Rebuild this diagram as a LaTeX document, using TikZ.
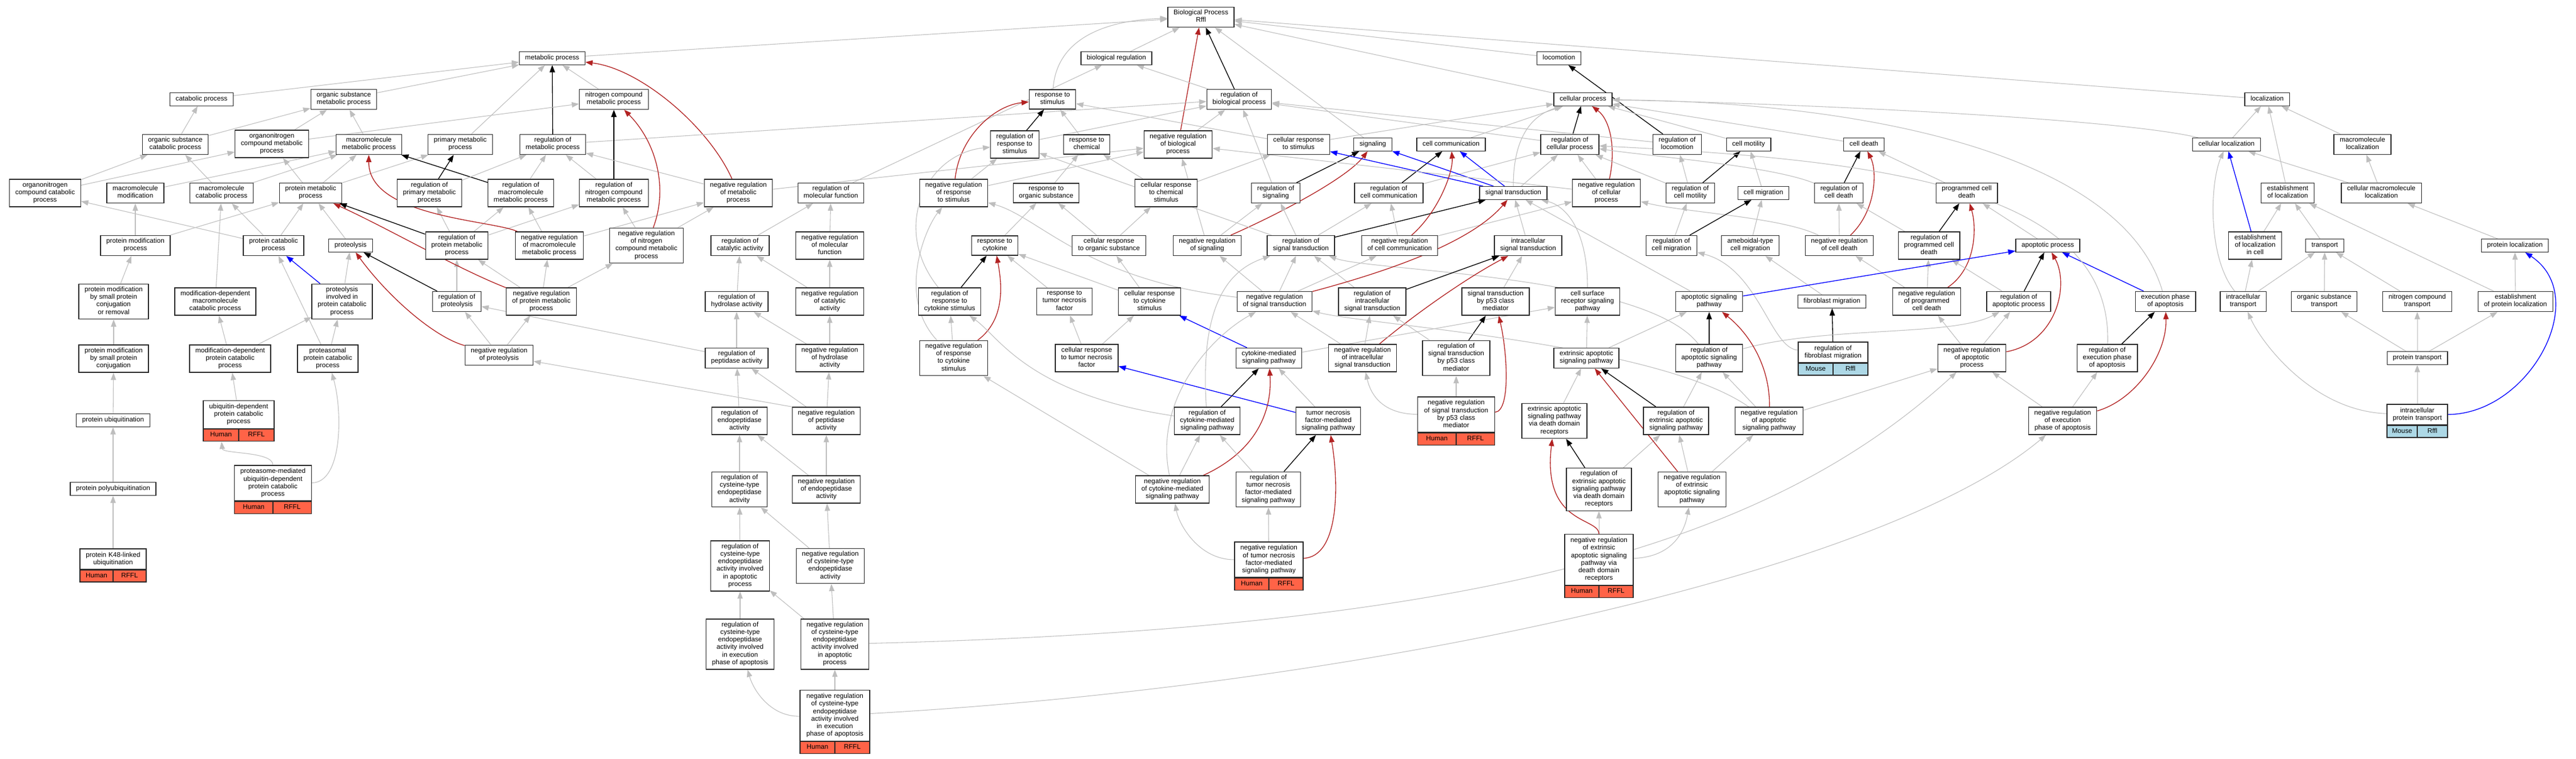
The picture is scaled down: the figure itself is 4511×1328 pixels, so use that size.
\documentclass[tikz,border=0pt]{standalone}
\usepackage{fontspec}
\setmainfont{Liberation Sans}
\usetikzlibrary{arrows.meta}

\definecolor{edgegrey}{RGB}{190,190,190}
\definecolor{negred}{RGB}{178,34,34}
\definecolor{partblue}{RGB}{0,0,255}
\definecolor{humanfill}{RGB}{255,99,71}
\definecolor{mousefill}{RGB}{173,216,230}
\definecolor{boxline}{RGB}{40,40,40}

\newcommand\termfont{\fontsize{8.8}{9.9}\selectfont}
\newcommand\genecells[5]{%
  \node [#2=#3, anchor=north west] (#1L) at (#1.south west) {#4};
  \node [#2=#3, anchor=north east] (#1R) at (#1.south east) {#5};}

\pgfdeclarelayer{edges}
\pgfsetlayers{edges,main}

\tikzset{every picture/.style={line width=0.75pt},
  term/.style={draw=boxline, line width=1pt, fill=white, align=center, font=\termfont,
    inner xsep=7.6pt, inner ysep=3.5pt,
    execute at begin node=\strut, execute at end node=\strut},
  gene/.style={term, inner xsep=5pt, text width=#1},
  hcell/.style={term, fill=humanfill, inner xsep=1pt, inner ysep=2.9pt, minimum width=#1},
  mcell/.style={hcell=#1, fill=mousefill},
  isa/.style={draw=edgegrey, line width=0.8pt, -{Triangle[length=9.5pt,width=7pt]}},
  reg/.style={isa, draw=black, line width=1pt},
  negreg/.style={isa, draw=negred, line width=1pt},
  partof/.style={isa, draw=partblue, line width=1pt}}

\begin{document}
\begin{tikzpicture}[x=0.75pt,y=0.75pt,yscale=-1,xscale=1]
%set diagram left start at 0, and has height of 1328
\useasboundingbox (0,0) rectangle (4511,1328);

% Text Node
\node [term] (bp) at (2103,30) {Biological Process\\Rffl};

% Text Node
\node [term] (met) at (967,102) {metabolic process};
\node [term] (bioreg) at (1955,102) {biological regulation};
\node [term] (loco) at (2730,102) {locomotion};

% Text Node
\node [term] (cat) at (353,174) {catabolic process};
\node [term] (osmet) at (602,174) {organic substance\\metabolic process};
\node [term] (ncmet) at (1075,174) {nitrogen compound\\metabolic process};
\node [term] (resp) at (1843,174) {response to\\stimulus};
\node [term] (regbio) at (2170,174) {regulation of\\biological process};
\node [term] (cell) at (2772,174) {cellular process};
\node [term] (loc) at (3970,174) {localization};

% Text Node
\node [term] (oscat) at (307,253) {organic substance\\catabolic process};
\node [term] (oncmet) at (476,252) {organonitrogen\\compound metabolic\\process};
\node [term] (mmet) at (646,253) {macromolecule\\metabolic process};
\node [term] (pmet) at (806,253) {primary metabolic\\process};
\node [term] (regmet) at (968,253) {regulation of\\metabolic process};
\node [term] (regresp) at (1777,253) {regulation of\\response to\\stimulus};
\node [term] (respchem) at (1903,253) {response to\\chemical};
\node [term] (negbio) at (2063,253) {negative regulation\\of biological\\process};
\node [term] (cresp) at (2274,253) {cellular response\\to stimulus};
\node [term] (sig) at (2404,253) {signaling};
\node [term] (ccom) at (2541,253) {cell communication};
\node [term] (regcell) at (2749,253) {regulation of\\cellular process};
\node [term] (regloco) at (2937,253) {regulation of\\locomotion};
\node [term] (motil) at (3062,253) {cell motility};
\node [term] (death) at (3264,253) {cell death};
\node [term] (cloc) at (3899,253) {cellular localization};
\node [term] (mloc) at (4137,253) {macromolecule\\localization};

% Text Node
\node [term] (onccat) at (79,338) {organonitrogen\\compound catabolic\\process};
\node [term] (mmod) at (237,338) {macromolecule\\modification};
\node [term] (mcat) at (388,338) {macromolecule\\catabolic process};
\node [term] (pmetp) at (544,338) {protein metabolic\\process};
\node [term] (regpmet) at (752,338) {regulation of\\primary metabolic\\process};
\node [term] (regmmet) at (912,338) {regulation of\\macromolecule\\metabolic process};
\node [term] (regncmet) at (1075,338) {regulation of\\nitrogen compound\\metabolic process};
\node [term] (negmet) at (1293,338) {negative regulation\\of metabolic\\process};
\node [term] (regmf) at (1455,338) {regulation of\\molecular function};
\node [term] (negresp) at (1670,338) {negative regulation\\of response\\to stimulus};
\node [term] (resporg) at (1832,338) {response to\\organic substance};
\node [term] (crespchem) at (2042,338) {cellular response\\to chemical\\stimulus};
\node [term] (regsig) at (2234,338) {regulation of\\signaling};
\node [term] (regccom) at (2432,338) {regulation of\\cell communication};
\node [term] (st) at (2650,338) {signal transduction};
\node [term] (negcell) at (2813,338) {negative regulation\\of cellular\\process};
\node [term] (regmotil) at (2960,338) {regulation of\\cell motility};
\node [term] (migr) at (3088,338) {cell migration};
\node [term] (regdeath) at (3220,338) {regulation of\\cell death};
\node [term] (pcd) at (3444,338) {programmed cell\\death};
\node [term] (estloc) at (4006,338) {establishment\\of localization};
\node [term] (cmloc) at (4170,338) {cellular macromolecule\\localization};

% Text Node
\node [term] (pmod) at (237,430) {protein modification\\process};
\node [term] (pcat) at (479,430) {protein catabolic\\process};
\node [term] (prot) at (614,430) {proteolysis};
\node [term] (regpm) at (800,430) {regulation of\\protein metabolic\\process};
\node [term] (negmm) at (962,430) {negative regulation\\of macromolecule\\metabolic process};
\node [term] (negnc) at (1132,430) {negative regulation\\of nitrogen\\compound metabolic\\process};
\node [term] (regcat) at (1296,430) {regulation of\\catalytic activity};
\node [term] (negmf) at (1453,430) {negative regulation\\of molecular\\function};
\node [term] (respcyt) at (1742,430) {response to\\cytokine};
\node [term] (cresporg) at (1942,430) {cellular response\\to organic substance};
\node [term] (negsig) at (2114,430) {negative regulation\\of signaling};
\node [term] (regst) at (2278,430) {regulation of\\signal transduction};
\node [term] (negccom) at (2451,430) {negative regulation\\of cell communication};
\node [term] (ist) at (2676,430) {intracellular\\signal transduction};
\node [term] (regmigr) at (2927,430) {regulation of\\cell migration};
\node [term] (amig) at (3065,430) {ameboidal-type\\cell migration};
\node [term] (negdeath) at (3221,430) {negative regulation\\of cell death};
\node [term] (regpcd) at (3378,430) {regulation of\\programmed cell\\death};
\node [term] (apo) at (3586,430) {apoptotic process};
\node [term] (estcell) at (3949,430) {establishment\\of localization\\in cell};
\node [term] (transp) at (4071,430) {transport};
\node [term] (ploc) at (4404,430) {protein localization};

% Text Node
\node [term] (pmodsm) at (199,528) {protein modification\\by small protein\\conjugation\\or removal};
\node [term] (mdmcat) at (377,528) {modification-dependent\\macromolecule\\catabolic process};
\node [term] (protcat) at (599,528) {proteolysis\\involved in\\protein catabolic\\process};
\node [term] (regprot) at (800,528) {regulation of\\proteolysis};
\node [term] (negpm) at (948,528) {negative regulation\\of protein metabolic\\process};
\node [term] (reghyd) at (1290,528) {regulation of\\hydrolase activity};
\node [term] (negcat) at (1453,528) {negative regulation\\of catalytic\\activity};
\node [term] (regrcyt) at (1663,528) {regulation of\\response to\\cytokine stimulus};
\node [term] (resptnf) at (1864,528) {response to\\tumor necrosis\\factor};
\node [term] (crespcyt) at (2013,528) {cellular response\\to cytokine\\stimulus};
\node [term] (negst) at (2232,528) {negative regulation\\of signal transduction};
\node [term] (regist) at (2403,528) {regulation of\\intracellular\\signal transduction};
\node [term] (p53) at (2619,528) {signal transduction\\by p53 class\\mediator};
\node [term] (csr) at (2780,528) {cell surface\\receptor signaling\\pathway};
\node [term] (apsig) at (2993,528) {apoptotic signaling\\pathway};
\node [term] (fibmig) at (3208,528) {fibroblast migration};
\node [term] (negpcd) at (3374,528) {negative regulation\\of programmed\\cell death};
\node [term] (regapo) at (3535,528) {regulation of\\apoptotic process};
\node [term] (exec) at (3792,528) {execution phase\\of apoptosis};
\node [term] (itr) at (3928,528) {intracellular\\transport};
\node [term] (ostr) at (4070,528) {organic substance\\transport};
\node [term] (nctr) at (4233,528) {nitrogen compound\\transport};
\node [term] (estploc) at (4405,528) {establishment\\of protein localization};

% Text Node
\node [term] (pmodsc) at (199,628) {protein modification\\by small protein\\conjugation};
\node [term] (mdpcat) at (403,628) {modification-dependent\\protein catabolic\\process};
\node [term] (pscat) at (574,628) {proteasomal\\protein catabolic\\process};
\node [term] (negprot) at (874,622) {negative regulation\\of proteolysis};
\node [term] (regpep) at (1290,627) {regulation of\\peptidase activity};
\node [term] (neghyd) at (1453,627) {negative regulation\\of hydrolase\\activity};
\node [term] (negrcyt) at (1670,627) {negative regulation\\of response\\to cytokine\\stimulus};
\node [term] (cresptnf) at (1903,627) {cellular response\\to tumor necrosis\\factor};
\node [term] (cms) at (2222,627) {cytokine-mediated\\signaling pathway};
\node [term] (negist) at (2386,627) {negative regulation\\of intracellular\\signal transduction};
\node [term] (regp53) at (2550,627) {regulation of\\signal transduction\\by p53 class\\mediator};
\node [term] (ext) at (2778,627) {extrinsic apoptotic\\signaling pathway};
\node [term] (regapsig) at (2993,627) {regulation of\\apoptotic signaling\\pathway};
\node [gene=81.5pt] (regfib) at (3210,617) {regulation of\\fibroblast migration};
\genecells{regfib}{mcell}{45.75pt}{Mouse}{Rffl}
\node [term] (negapo) at (3453,627) {negative regulation\\of apoptotic\\process};
\node [term] (regexec) at (3690,627) {regulation of\\execution phase\\of apoptosis};
\node [term] (ptr) at (4233,627) {protein transport};

% Text Node
\node [gene=83pt] (ubq) at (418,726) {ubiquitin-dependent\\protein catabolic\\process};
\genecells{ubq}{hcell}{46.5pt}{Human}{RFFL}
\node [term] (pubq) at (198,736) {protein ubiquitination};
\node [term] (regendo) at (1295,737) {regulation of\\endopeptidase\\activity};
\node [term] (negpep) at (1447,737) {negative regulation\\of peptidase\\activity};
\node [term] (regcms) at (2114,737) {regulation of\\cytokine-mediated\\signaling pathway};
\node [term] (tnf) at (2326,737) {tumor necrosis\\factor-mediated\\signaling pathway};
\node [gene=91.25pt] (negp53) at (2550,726) {negative regulation\\of signal transduction\\by p53 class\\mediator};
\genecells{negp53}{hcell}{50.625pt}{Human}{RFFL}
\node [term] (extdd) at (2722,737) {extrinsic apoptotic\\signaling pathway\\via death domain\\receptors};
\node [term] (regext) at (2935,737) {regulation of\\extrinsic apoptotic\\signaling pathway};
\node [term] (negapsig) at (3098,737) {negative regulation\\of apoptotic\\signaling pathway};
\node [term] (negexec) at (3612,737) {negative regulation\\of execution\\phase of apoptosis};
\node [gene=69.5pt] (iptr) at (4233,726) {intracellular\\protein transport};
\genecells{iptr}{mcell}{39.75pt}{Mouse}{Rffl}

% Text Node
\node [gene=91.25pt] (pasm) at (478,846) {proteasome-mediated\\ubiquitin-dependent\\protein catabolic\\process};
\genecells{pasm}{hcell}{50.625pt}{Human}{RFFL}
\node [term] (ppubq) at (198,856) {protein polyubiquitination};
\node [term] (regcys) at (1295,857) {regulation of\\cysteine-type\\endopeptidase\\activity};
\node [term] (negendo) at (1447,857) {negative regulation\\of endopeptidase\\activity};
\node [term] (negcms) at (2053,857) {negative regulation\\of cytokine-mediated\\signaling pathway};
\node [term] (regtnf) at (2221,857) {regulation of\\tumor necrosis\\factor-mediated\\signaling pathway};
\node [term] (regextdd) at (2800,857) {regulation of\\extrinsic apoptotic\\signaling pathway\\via death domain\\receptors};
\node [term] (negext) at (2963,857) {negative regulation\\of extrinsic\\apoptotic signaling\\pathway};

% Text Node
\node [gene=77pt] (k48) at (198,979) {protein K48-linked\\ubiquitination};
\genecells{k48}{hcell}{43.5pt}{Human}{RFFL}
\node [term] (regcysap) at (1296,991) {regulation of\\cysteine-type\\endopeptidase\\activity involved\\in apoptotic\\process};
\node [term] (negcys) at (1454,991) {negative regulation\\of cysteine-type\\endopeptidase\\activity};
\node [gene=80pt] (negtnf) at (2222,980) {negative regulation\\of tumor necrosis\\factor-mediated\\signaling pathway};
\genecells{negtnf}{hcell}{45pt}{Human}{RFFL}
\node [gene=80pt] (negextdd) at (2800,980) {negative regulation\\of extrinsic\\apoptotic signaling\\pathway via\\death domain\\receptors};
\genecells{negextdd}{hcell}{45pt}{Human}{RFFL}

% Text Node
\node [term] (regcysex) at (1296,1128) {regulation of\\cysteine-type\\endopeptidase\\activity involved\\in execution\\phase of apoptosis};
\node [term] (negcysap) at (1462,1128) {negative regulation\\of cysteine-type\\endopeptidase\\activity involved\\in apoptotic\\process};
\node [gene=81.5pt] (negcysex) at (1462,1253) {negative regulation\\of cysteine-type\\endopeptidase\\activity involved\\in execution\\phase of apoptosis};
\genecells{negcysex}{hcell}{45.75pt}{Human}{RFFL}

\begin{pgfonlayer}{edges}
\fill [white] (0,0) rectangle (4511,1328);
%Straight Lines: top
\draw [isa] (met) -- (bp);
\draw [isa] (bioreg) -- (bp);
\draw [isa] (resp) .. controls (1850,60) and (1950,35) .. (bp);
\draw [reg] (regbio) -- (bp);
\draw [negreg] (negbio) -- (bp);
\draw [isa] (cell) -- (bp);
\draw [isa] (loco) -- (bp);
\draw [isa] (loc) -- (bp);
\draw [isa] (sig) -- (bp);
%Straight Lines: metabolism
\draw [isa] (cat) -- (met);
\draw [isa] (osmet) -- (met);
\draw [isa] (ncmet) -- (met);
\draw [isa] (pmet) -- (met);
\draw [reg] (regmet) -- (met);
\draw [negreg] (negmet) .. controls (1240,220) and (1120,120) .. (met);
\draw [isa] (oscat) -- (cat);
\draw [isa] (oscat) -- (osmet);
\draw [isa] (oncmet) -- (osmet);
\draw [isa] (oncmet) -- (ncmet);
\draw [isa] (mmet) -- (osmet);
\draw [isa] (pmetp) -- (pmet);
\draw [isa] (regmet) -- (regbio);
\draw [isa] (regmmet) -- (regmet);
\draw [reg] (regmmet) -- (mmet);
\draw [reg] (regpmet) -- (pmet);
\draw [isa] (regpmet) -- (regmet);
\draw [reg] (regncmet) -- (ncmet);
\draw [isa] (regncmet) -- (regmet);
\draw [isa] (negmet) -- (regmet);
\draw [isa] (negmet) -- (negbio);
\draw [isa] (onccat) -- (oscat);
\draw [isa] (onccat) -- (oncmet);
\draw [isa] (mmod) -- (mmet);
\draw [isa] (mcat) -- (oscat);
\draw [isa] (mcat) -- (mmet);
\draw [isa] (pmetp) -- (oncmet);
\draw [isa] (pmetp) -- (mmet);
\draw [reg] (regpm) -- (pmetp);
\draw [isa] (regpm) -- (regmmet);
\draw [isa] (regpm) -- (regpmet);
\draw [isa] (regpm) -- (regncmet);
\draw [isa] (negmm) -- (regmmet);
\draw [negreg] (negmm) .. controls (860,385) and (645,380) .. (mmet);
\draw [isa] (negmm) -- (negmet);
\draw [isa] (negnc) -- (regncmet);
\draw [negreg] (negnc) .. controls (1170,330) and (1150,250) .. (ncmet);
\draw [isa] (negnc) -- (negmet);
\draw [isa] (regcat) -- (regmf);
\draw [isa] (negmf) -- (regmf);
\draw [isa] (regmf) -- (bioreg);
\draw [isa] (pmod) -- (mmod);
\draw [isa] (pmod) -- (pmetp);
\draw [isa] (pcat) -- (onccat);
\draw [isa] (pcat) -- (mcat);
\draw [isa] (pcat) -- (pmetp);
\draw [isa] (prot) -- (pmetp);
\draw [reg] (regprot) -- (prot);
\draw [isa] (regprot) -- (regpm);
\draw [isa] (negpm) -- (regpm);
\draw [isa] (negpm) -- (negmm);
\draw [negreg] (negpm) .. controls (800,470) and (680,400) .. (pmetp);
\draw [isa] (negpm) -- (negnc);
\draw [isa] (reghyd) -- (regcat);
\draw [isa] (negcat) -- (regcat);
\draw [isa] (negcat) -- (negmf);
\draw [isa] (pmodsm) -- (pmod);
\draw [isa] (mdmcat) -- (mcat);
\draw [partof] (protcat) -- (pcat);
\draw [isa] (protcat) -- (prot);
\draw [isa] (negprot) -- (regprot);
\draw [negreg] (negprot) .. controls (760,590) and (680,520) .. (prot);
\draw [isa] (negprot) -- (negpm);
\draw [isa] (regpep) -- (reghyd);
\draw [isa] (regpep) -- (regprot);
\draw [isa] (neghyd) -- (reghyd);
\draw [isa] (neghyd) -- (negcat);
\draw [isa] (regendo) -- (regpep);
\draw [isa] (negpep) -- (regpep);
\draw [isa] (negpep) -- (neghyd);
\draw [isa] (negpep.north west) -- (negprot);
\draw [isa] (regcys) -- (regendo);
\draw [isa] (negendo) -- (regendo);
\draw [isa] (negendo) -- (negpep);
\draw [isa] (regcysap) -- (regcys);
\draw [isa] (negcys) -- (regcys);
\draw [isa] (negcys) -- (negendo);
\draw [isa] (regcysex) -- (regcysap);
\draw [isa] (negcysap) -- (regcysap);
\draw [isa] (negcysap) -- (negcys);
\draw [isa] (negcysap) .. controls (2600,1100) and (3100,950) .. (negapo);
\draw [isa] (negcysex) .. controls (1350,1255) and (1320,1210) .. (regcysex);
\draw [isa] (negcysex) -- (negcysap);
\draw [isa] (negcysex) .. controls (2400,1200) and (3300,1000) .. (negexec);
\draw [isa] (pmodsc) -- (pmodsm);
\draw [isa] (mdpcat) -- (mdmcat);
\draw [isa] (mdpcat) -- (protcat);
\draw [isa] (pscat) -- (protcat);
\draw [isa] (pscat) -- (pcat);
\draw [isa] (ubq) -- (mdpcat);
\draw [isa] (pubq) -- (pmodsc);
\draw [isa] (pasm) .. controls (478,790) and (390,795) .. (ubqL);
\draw [isa] (pasm) .. controls (600,845) and (600,720) .. (pscat);
\draw [isa] (ppubq) -- (pubq);
\draw [isa] (k48) -- (ppubq);
%Straight Lines: response and signaling
\draw [isa] (regbio) -- (bioreg);
\draw [reg] (regresp) -- (resp);
\draw [isa] (regresp) -- (regbio);
\draw [isa] (respchem) -- (resp);
\draw [isa] (negbio) -- (regbio);
\draw [isa] (cresp) -- (resp);
\draw [isa] (cresp) -- (cell);
\draw [negreg] (negresp) .. controls (1680,240) and (1740,185) .. (resp);
\draw [isa] (negresp) -- (regresp);
\draw [isa] (negresp) -- (negbio);
\draw [isa] (resporg) -- (respchem);
\draw [isa] (crespchem) -- (respchem);
\draw [isa] (crespchem) -- (cresp);
\draw [isa] (regsig) -- (regbio);
\draw [reg] (regsig) -- (sig);
\draw [isa] (respcyt) -- (resporg);
\draw [isa] (cresporg) -- (resporg);
\draw [isa] (cresporg) -- (crespchem);
\draw [isa] (negsig) -- (regsig);
\draw [negreg] (negsig) .. controls (2250,370) and (2360,310) .. (sig);
\draw [isa] (negsig) -- (negbio);
\draw [isa] (regst) -- (regsig);
\draw [reg] (regst) -- (st);
\draw [isa] (regst) -- (regresp);
\draw [isa] (regst) -- (regccom);
\draw [reg] (regccom) -- (ccom);
\draw [isa] (regccom) -- (regcell);
\draw [reg] (regcell) -- (cell);
\draw [isa] (regcell) -- (regbio);
\draw [isa] (ccom) -- (cell);
\draw [partof] (st) -- (sig);
\draw [partof] (st) -- (ccom);
\draw [partof] (st) -- (cresp);
\draw [isa] (st) -- (regcell);
\draw [isa] (st) .. controls (2650,230) and (2690,200) .. (cell);
\draw [isa] (negcell) -- (regcell);
\draw [negreg] (negcell) .. controls (2830,260) and (2820,210) .. (cell);
\draw [isa] (negcell) -- (negbio);
\draw [reg] (regloco) -- (loco);
\draw [isa] (regloco) -- (regbio);
\draw [reg] (regmotil) -- (motil);
\draw [isa] (regmotil) -- (regloco);
\draw [isa] (regmotil) -- (regcell);
\draw [isa] (motil) -- (cell);
\draw [isa] (death) -- (cell);
\draw [reg] (regdeath) -- (death);
\draw [isa] (regdeath) .. controls (3100,290) and (2900,275) .. (regcell);
\draw [isa] (negdeath) -- (regdeath);
\draw [negreg] (negdeath) .. controls (3285,370) and (3288,300) .. (death);
\draw [isa] (negdeath) .. controls (3120,380) and (2950,372) .. (negcell);
\draw [isa] (pcd) -- (death);
\draw [isa] (migr) -- (motil);
\draw [reg] (regmigr) -- (migr);
\draw [isa] (regmigr) -- (regmotil);
\draw [isa] (amig) -- (migr);
\draw [isa] (fibmig) -- (amig);
\draw [reg] (regfib) -- (fibmig);
\draw [isa] (regfib) .. controls (3100,610) and (3080,470) .. (regmigr);
\draw [isa] (regpcd) -- (regdeath);
\draw [reg] (regpcd) -- (pcd);
\draw [isa] (negpcd) -- (regpcd);
\draw [isa] (negpcd) -- (negdeath);
\draw [negreg] (negpcd) .. controls (3460,470) and (3462,400) .. (pcd);
\draw [isa] (apo) -- (pcd);
\draw [isa] (regapo) -- (regpcd);
\draw [reg] (regapo) -- (apo);
\draw [isa] (negapo) -- (regapo);
\draw [isa] (negapo) -- (negpcd);
\draw [negreg] (negapo) .. controls (3600,600) and (3625,500) .. (apo);
\draw [partof] (exec) -- (apo);
\draw [isa] (exec) .. controls (3720,280) and (3300,180) .. (cell);
\draw [partof] (apsig) -- (apo);
\draw [isa] (apsig) -- (st);
\draw [reg] (regexec) -- (exec);
\draw [isa] (regexec) .. controls (3700,330) and (3300,280) .. (regcell);
\draw [reg] (regapsig) -- (apsig);
\draw [isa] (regapsig) .. controls (3200,570) and (3420,590) .. (regapo);
\draw [isa] (regapsig) .. controls (2880,480) and (2400,475) .. (regst);
\draw [isa] (ist) -- (st);
\draw [isa] (regist) -- (regst);
\draw [reg] (regist) -- (ist);
\draw [isa] (negist) -- (regist);
\draw [isa] (negist) -- (negst);
\draw [negreg] (negist) .. controls (2490,540) and (2580,480) .. (ist);
\draw [isa] (negccom) -- (regccom);
\draw [negreg] (negccom) .. controls (2520,370) and (2545,300) .. (ccom);
\draw [isa] (negccom) -- (negcell);
\draw [isa] (negst) -- (regst);
\draw [isa] (negst) -- (negsig);
\draw [negreg] (negst) .. controls (2450,470) and (2580,420) .. (st);
\draw [isa] (negst) .. controls (1900,490) and (1820,380) .. (negresp);
\draw [isa] (negst) -- (negccom);
\draw [reg] (regrcyt) -- (respcyt);
\draw [isa] (regrcyt) .. controls (1560,400) and (1620,270) .. (regresp);
\draw [isa] (resptnf) -- (respcyt);
\draw [isa] (crespcyt) -- (respcyt);
\draw [isa] (crespcyt) -- (cresporg);
\draw [isa] (negrcyt) -- (regrcyt);
\draw [negreg] (negrcyt) .. controls (1760,560) and (1755,500) .. (respcyt);
\draw [isa] (negrcyt) .. controls (1570,520) and (1620,400) .. (negresp);
\draw [isa] (cresptnf) -- (resptnf);
\draw [isa] (cresptnf) -- (crespcyt);
\draw [partof] (cms) -- (crespcyt);
\draw [isa] (cms) -- (csr);
\draw [isa] (tnf) -- (cms);
\draw [partof] (tnf) -- (cresptnf);
\draw [reg] (regcms) -- (cms);
\draw [isa] (regcms) .. controls (1800,690) and (1750,590) .. (regrcyt);
\draw [isa] (regcms) .. controls (2100,520) and (2160,470) .. (regst);
\draw [isa] (negcms) -- (regcms);
\draw [negreg] (negcms) .. controls (2200,790) and (2228,720) .. (cms);
\draw [isa] (negcms) -- (negrcyt);
\draw [isa] (negcms) .. controls (2020,700) and (2120,590) .. (negst);
\draw [reg] (regtnf) -- (tnf);
\draw [isa] (regtnf) -- (regcms);
\draw [isa] (negtnf) -- (regtnf);
\draw [negreg] (negtnf) .. controls (2345,975) and (2345,850) .. (tnf);
\draw [isa] (negtnf) .. controls (2100,980) and (2065,920) .. (negcms);
\draw [isa] (p53) -- (ist);
\draw [reg] (regp53) -- (p53);
\draw [isa] (regp53) -- (regist);
\draw [isa] (negp53) -- (regp53);
\draw [negreg] (negp53) .. controls (2645,720) and (2640,620) .. (p53);
\draw [isa] (negp53) .. controls (2420,725) and (2400,690) .. (negist);
\draw [isa] (csr) .. controls (2780,400) and (2740,360) .. (st);
\draw [isa] (ext) -- (csr);
\draw [isa] (ext) -- (apsig);
\draw [isa] (extdd) -- (ext);
\draw [reg] (regext) -- (ext);
\draw [isa] (regext) -- (regapsig);
\draw [reg] (regextdd) -- (extdd);
\draw [isa] (regextdd) -- (regext);
\draw [isa] (negext) -- (regext);
\draw [negreg] (negext) -- (ext);
\draw [isa] (negext) -- (negapsig);
\draw [isa] (negextdd) -- (regextdd);
\draw [negreg] (negextdd) .. controls (2800,905) and (2700,920) .. (extdd);
\draw [isa] (negextdd) .. controls (2930,975) and (2950,930) .. (negext);
\draw [isa] (negapsig) -- (regapsig);
\draw [negreg] (negapsig) .. controls (3100,650) and (3070,590) .. (apsig);
\draw [isa] (negapsig) -- (negapo);
\draw [isa] (negapsig) .. controls (2900,600) and (2400,570) .. (negst);
\draw [isa] (negexec) -- (regexec);
\draw [negreg] (negexec) .. controls (3740,700) and (3795,620) .. (exec);
\draw [isa] (negexec) -- (negapo);
%Straight Lines: localization
\draw [isa] (cloc) -- (loc);
\draw [isa] (cloc) .. controls (3700,205) and (3100,180) .. (cell);
\draw [isa] (mloc) -- (loc);
\draw [isa] (estloc) -- (loc);
\draw [isa] (cmloc) -- (cloc);
\draw [isa] (cmloc) -- (mloc);
\draw [isa] (estcell) -- (estloc);
\draw [partof] (estcell) -- (cloc);
\draw [isa] (transp) -- (estloc);
\draw [isa] (ploc) -- (cmloc);
\draw [isa] (itr) -- (estcell);
\draw [isa] (itr) -- (transp);
\draw [isa] (itr) .. controls (3865,450) and (3870,320) .. (cloc);
\draw [isa] (ostr) -- (transp);
\draw [isa] (nctr) -- (transp);
\draw [isa] (estploc) -- (ploc);
\draw [isa] (estploc) -- (estloc);
\draw [isa] (ptr) -- (ostr);
\draw [isa] (ptr) -- (nctr);
\draw [isa] (ptr) -- (estploc);
\draw [isa] (iptr) -- (ptr);
\draw [isa] (iptr) .. controls (4050,720) and (3960,600) .. (itr);
\draw [partof] (iptr) .. controls (4430,725) and (4540,520) .. (ploc);
\end{pgfonlayer}

\end{tikzpicture}
\end{document}
